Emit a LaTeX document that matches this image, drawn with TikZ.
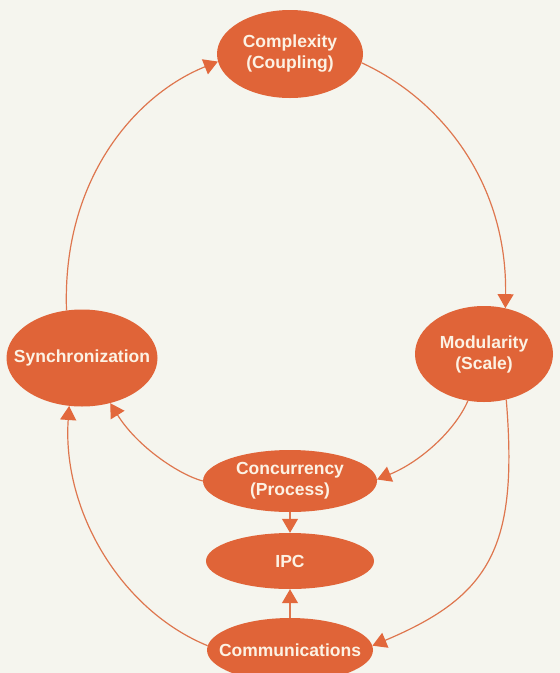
\documentclass[tikz,border=0pt]{standalone}
\usepackage{fontspec}
\setmainfont{Liberation Sans}
\usetikzlibrary{shapes.geometric,arrows.meta}
\definecolor{bubfill}{RGB}{224,100,56}
\definecolor{linecol}{RGB}{222,118,78}
\definecolor{headcol}{RGB}{226,104,60}
\definecolor{txtcol}{RGB}{252,242,228}
\definecolor{bgcol}{RGB}{245,245,238}
\newcommand{\zb}[1]{\makebox[0pt]{#1}}
\begin{document}
\begin{tikzpicture}[x=1pt,y=-1pt,
  bub/.style={ellipse, fill=bubfill, draw=none, inner sep=0pt, align=center,
    text=txtcol, font=\bfseries\fontsize{17.5}{21}\selectfont},
  arr/.style={draw=linecol, line width=1.2pt, -{Triangle[length=14pt,width=16pt,color=headcol]}}]
\fill[bgcol] (0,0) rectangle (560,673);
\useasboundingbox (0,0) rectangle (560,673);

\node[bub, minimum width=146pt, minimum height=88pt] (cpx) at (290,54) {\zb{Complexity}\\\zb{(Coupling)}};
\node[bub, minimum width=151pt, minimum height=97pt] (syn) at (82,358) {\zb{Synchronization}};
\node[bub, minimum width=138pt, minimum height=96pt] (mod) at (484,354) {\zb{Modularity}\\\zb{(Scale)}};
\node[bub, minimum width=174pt, minimum height=62pt] (con) at (290,481) {\zb{Concurrency}\\\zb{(Process)}};
\node[bub, minimum width=168pt, minimum height=56pt] (ipc) at (290,561) {\zb{IPC}};
\node[bub, minimum width=166pt, minimum height=64pt] (com) at (290,650) {\zb{Communications}};

\draw[arr] (cpx.-7) .. controls +(80,37) and +(2,-125) .. (mod.65);
\draw[arr] (syn.108) .. controls +(-4.6,-130.5) and +(-83,33.4) .. (cpx.186);
\draw[arr] (mod.251) .. controls +(-13,30) and +(43,-17.5) .. (con.1);
\draw[arr] (mod.-64) .. controls +(12,146.5) and +(119,-50) .. (com.3);
\draw[arr] (con.180) .. controls +(-23,-6) and +(27.4,44) .. (syn.-58.5);
\draw[arr] (com.177) .. controls +(-87,-35.7) and +(-7.2,104.2) .. (syn.-105);
\draw[arr] (con.south) -- (ipc.north);
\draw[arr] (com.north) -- (ipc.south);
\end{tikzpicture}
\end{document}
